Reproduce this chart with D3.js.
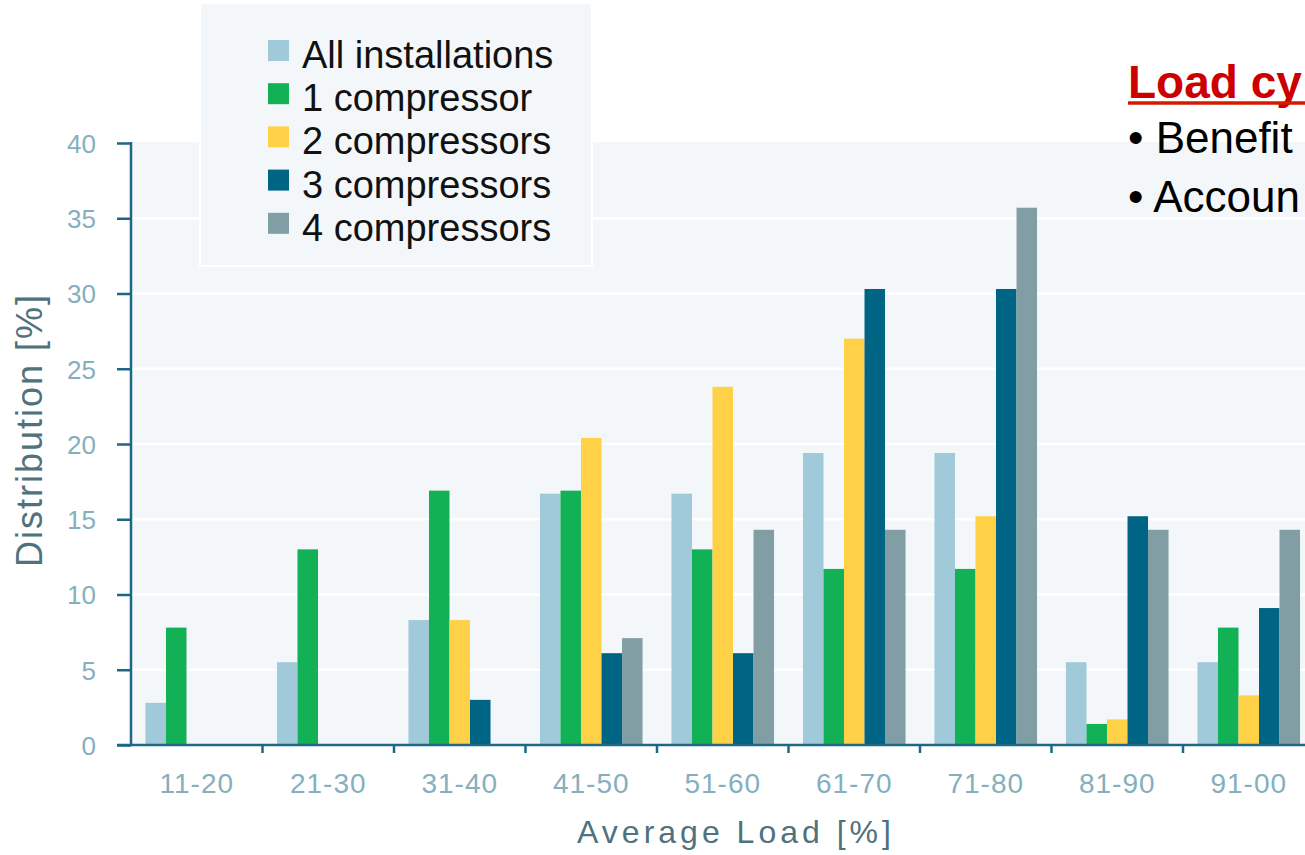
<!DOCTYPE html>
<html>
<head>
<meta charset="utf-8">
<script src="https://cdn.jsdelivr.net/npm/d3@7"></script>
<style>
  html, body { margin: 0; padding: 0; background: #ffffff; }
  svg { display: block; }
</style>
</head>
<body>
<svg id="chart" width="1305" height="855"></svg>
<script>
// Load bands and distribution values (%) per compressor configuration
const categories = ["11-20", "21-30", "31-40", "41-50", "51-60", "61-70", "71-80", "81-90", "91-00"];
const seriesNames = ["All installations", "1 compressor", "2 compressors", "3 compressors", "4 compressors"];
const allInstallations = [2.8, 5.5, 8.3, 16.7, 16.7, 19.4, 19.4, 5.5, 5.5];
const oneCompressor    = [7.8, 13.0, 16.9, 16.9, 13.0, 11.7, 11.7, 1.4, 7.8];
const twoCompressors   = [0, 0, 8.3, 20.4, 23.8, 27.0, 15.2, 1.7, 3.3];
const threeCompressors = [0, 0, 3.0, 6.1, 6.1, 30.3, 30.3, 15.2, 9.1];
const fourCompressors  = [0, 0, 0, 7.1, 14.3, 14.3, 35.7, 14.3, 14.3];
const yTicks = [0, 5, 10, 15, 20, 25, 30, 35, 40];
const seriesColors = ["#a0c9d9", "#13b156", "#ffd147", "#006484", "#829ea5"];
const noteTitle = "Load cy";
const noteBullets = ["\u2022 Benefit", "\u2022 Accoun"];

const seriesValues = [allInstallations, oneCompressor, twoCompressors, threeCompressors, fourCompressors];

const svg = d3.select("#chart");

const plotLeft = 131, plotTop = 142, plotBottom = 745;
const bandWidth = 131.5;

const x = d3.scaleBand()
  .domain(categories)
  .range([plotLeft, plotLeft + bandWidth * categories.length])
  .padding(0);

const xInner = d3.scaleBand()
  .domain(seriesNames)
  .range([x.bandwidth() * 0.11, x.bandwidth() * 0.89])
  .padding(0);

const y = d3.scaleLinear().domain([0, 40]).range([plotBottom, plotTop + 1]);

// plot background
svg.append("rect")
  .attr("x", plotLeft).attr("y", plotTop)
  .attr("width", 1305 - plotLeft).attr("height", plotBottom - plotTop)
  .attr("fill", "#f3f7fa");

// horizontal grid lines
svg.append("g")
  .selectAll("line")
  .data(yTicks.filter(t => t > 0 && t < 40))
  .join("line")
  .attr("x1", plotLeft).attr("x2", 1305)
  .attr("y1", d => y(d)).attr("y2", d => y(d))
  .attr("stroke", "#ffffff").attr("stroke-width", 2.5);

// bars
const groups = svg.append("g")
  .selectAll("g")
  .data(categories)
  .join("g")
  .attr("transform", d => `translate(${x(d)},0)`);

groups.selectAll("rect")
  .data((c, i) => seriesNames.map((s, k) => ({ s, k, v: seriesValues[k][i] })))
  .join("rect")
  .attr("x", d => xInner(d.s))
  .attr("width", xInner.bandwidth())
  .attr("y", d => y(d.v))
  .attr("height", d => plotBottom - y(d.v))
  .attr("fill", d => seriesColors[d.k]);

// y axis
const axisColor = "#1d6786";
const tickTextColor = "#86afbe";

const yAxis = svg.append("g")
  .attr("transform", `translate(${plotLeft},0)`)
  .call(d3.axisLeft(y).tickValues(yTicks).tickSize(14).tickPadding(21).tickSizeOuter(0));
yAxis.select(".domain").attr("stroke", axisColor).attr("stroke-width", 2.5)
  .attr("d", `M0,${y(40) - 1}V${plotBottom}`);
yAxis.selectAll(".tick line").attr("stroke", axisColor).attr("stroke-width", 2.5);
yAxis.selectAll(".tick text")
  .attr("fill", tickTextColor)
  .style("font-family", "'Liberation Sans', Arial, sans-serif")
  .style("font-size", "26px")
  .attr("dy", "0.36em");

// x axis
const xAxis = svg.append("g")
  .attr("transform", `translate(0,${plotBottom})`)
  .call(d3.axisBottom(x).tickSize(0).tickPadding(48).tickSizeOuter(0));
xAxis.select(".domain").attr("stroke", axisColor).attr("stroke-width", 2.5)
  .attr("d", `M${plotLeft - 14},0H1305`);
xAxis.selectAll(".tick text")
  .attr("fill", tickTextColor)
  .attr("dy", 0)
  .style("font-family", "'Liberation Sans', Arial, sans-serif")
  .style("font-size", "28px")
  .style("letter-spacing", "1px");

// small tick marks at band boundaries
svg.append("g")
  .selectAll("line")
  .data(categories.slice(1))
  .join("line")
  .attr("x1", d => x(d)).attr("x2", d => x(d))
  .attr("y1", plotBottom).attr("y2", plotBottom + 8)
  .attr("stroke", axisColor).attr("stroke-width", 2.5);

// axis titles
svg.append("text")
  .attr("transform", "translate(42,430) rotate(-90)")
  .attr("text-anchor", "middle")
  .attr("fill", "#4f727d")
  .style("font-family", "'Liberation Sans', Arial, sans-serif")
  .style("font-size", "36px")
  .style("letter-spacing", "2px")
  .text("Distribution [%]");

svg.append("text")
  .attr("x", 736).attr("y", 843)
  .attr("text-anchor", "middle")
  .attr("fill", "#4f727d")
  .style("font-family", "'Liberation Sans', Arial, sans-serif")
  .style("font-size", "32px")
  .style("letter-spacing", "4px")
  .text("Average Load [%]");

// legend
const legend = svg.append("g");
legend.append("rect")
  .attr("x", 200).attr("y", 3).attr("width", 392).attr("height", 263)
  .attr("fill", "#f3f7fa").attr("stroke", "#ffffff").attr("stroke-width", 2);

const legendRows = legend.selectAll("g.row")
  .data(seriesNames)
  .join("g")
  .attr("class", "row")
  .attr("transform", (d, i) => `translate(268,${40 + i * 43.2})`);
legendRows.append("rect")
  .attr("width", 21).attr("height", 21)
  .attr("fill", (d, i) => seriesColors[i]);
legendRows.append("text")
  .attr("x", 34).attr("y", 28)
  .attr("fill", "#111111")
  .style("font-family", "'Liberation Sans', Arial, sans-serif")
  .style("font-size", "38px")
  .text(d => d);

// side notes
svg.append("text")
  .attr("x", 1128).attr("y", 98)
  .attr("fill", "#cc0000")
  .style("font-family", "'Liberation Sans', Arial, sans-serif")
  .style("font-size", "46px")
  .style("font-weight", "bold")
  .text(noteTitle);
svg.append("line")
  .attr("x1", 1128).attr("x2", 1305)
  .attr("y1", 103).attr("y2", 103)
  .attr("stroke", "#d41a00").attr("stroke-width", 3.5);

svg.append("g")
  .selectAll("text")
  .data(noteBullets)
  .join("text")
  .attr("x", 1128)
  .attr("y", (d, i) => 153 + i * 59)
  .attr("fill", "#000000")
  .style("font-family", "'Liberation Sans', Arial, sans-serif")
  .style("font-size", "44px")
  .text(d => d);
</script>
</body>
</html>
